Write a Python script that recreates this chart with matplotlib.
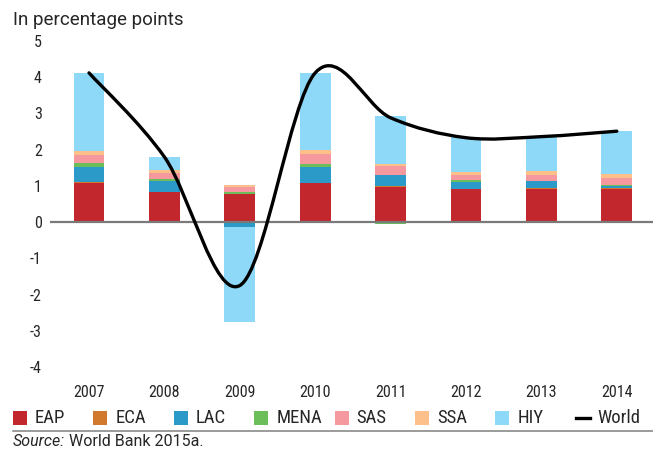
"""
Contribution to world growth by region, stacked bars with a smoothed World line.
"""
import matplotlib
matplotlib.use("Agg")
import matplotlib.pyplot as plt
import numpy as np
from matplotlib import font_manager
from matplotlib.path import Path
from matplotlib.patches import PathPatch, Rectangle
from matplotlib.lines import Line2D

# ─── Data ────────────────────────────────────────────
years = ["2007", "2008", "2009", "2010", "2011", "2012", "2013", "2014"]
eap = [1.08, 0.82, 0.77, 1.08, 0.97, 0.91, 0.91, 0.91]
eca = [0.03, 0.02, -0.03, 0.01, 0.03, 0.01, 0.04, 0.04]
lac = [0.42, 0.30, -0.10, 0.43, 0.30, 0.20, 0.18, 0.05]
mena = [0.10, 0.06, 0.05, 0.09, -0.05, 0.03, 0.01, 0.03]
sas = [0.22, 0.16, 0.14, 0.28, 0.25, 0.14, 0.16, 0.18]
ssa = [0.11, 0.08, 0.06, 0.11, 0.05, 0.08, 0.10, 0.12]
hiy = [2.16, 0.36, -2.64, 2.13, 1.33, 0.98, 0.97, 1.18]
world = [4.12, 1.80, -1.75, 4.12, 2.88, 2.33, 2.36, 2.51]

series_names = ["EAP", "ECA", "LAC", "MENA", "SAS", "SSA", "HIY"]
series_vals = [eap, eca, lac, mena, sas, ssa, hiy]
series_colors = ["#C1272D", "#D17A2D", "#2B9AC8", "#6CBE5A", "#F5999F", "#FEC08A", "#8ED8F8"]

# pick a condensed face if one is installed
_installed = {f.name: f for f in font_manager.fontManager.ttflist}
_narrow = dict(family=["Roboto", "DejaVu Sans"], stretch="normal")
for cand in ["Liberation Sans Narrow", "Roboto Condensed", "DejaVu Sans Condensed",
             "Open Sans Condensed"]:
    if cand in _installed:
        _narrow = dict(family=[cand, "DejaVu Sans"], stretch="normal")
        break
else:
    for f in font_manager.fontManager.ttflist:
        if f.name == "DejaVu Sans" and "ondensed" in str(f.stretch):
            _narrow = dict(family=["DejaVu Sans"], stretch="condensed")
            break
NARROW = _narrow
SANS = ["Roboto", "DejaVu Sans"]
TXT = "#262626"
plt.rcParams["axes.unicode_minus"] = False

W, H = 653, 451

fig = plt.figure(figsize=(W / 100, H / 100), dpi=100)
ax = fig.add_axes([50 / W, (H - 367) / H, 603 / W, 326 / H])

# ─── Stacked bars: positives up from 0, negatives down ─
x = np.arange(len(years))
pos_base = np.zeros(len(years))
neg_base = np.zeros(len(years))
for name, vals, col in zip(series_names, series_vals, series_colors):
    v = np.array(vals)
    bottoms = np.where(v >= 0, pos_base, neg_base)
    ax.bar(x, v, bottom=bottoms, width=0.41, color=col, linewidth=0, zorder=2)
    pos_base += np.where(v >= 0, v, 0)
    neg_base += np.where(v < 0, v, 0)

ax.axhline(0, color="#7a7a7a", linewidth=1.6, zorder=3)

# ─── World line, smoothed (Catmull-Rom as cubic Bezier) ─
pts = np.column_stack([x, world]).astype(float)
n = len(pts)
verts = [pts[0]]
codes = [Path.MOVETO]
for i in range(n - 1):
    p0 = pts[max(i - 1, 0)]
    p1 = pts[i]
    p2 = pts[i + 1]
    p3 = pts[min(i + 2, n - 1)]
    verts += [p1 + (p2 - p0) / 6, p2 - (p3 - p1) / 6, p2]
    codes += [Path.CURVE4] * 3
ax.add_patch(PathPatch(Path(verts, codes), fill=False, edgecolor="black",
                       linewidth=2.4, capstyle="round", zorder=4))

# ─── Axes styling ────────────────────────────────────
ax.set_xlim(-0.517, 7.48)
ax.set_ylim(-4, 5)
ax.set_yticks(range(-4, 6))
ax.set_xticks(x)
ax.set_xticklabels(years)
for s in ax.spines.values():
    s.set_visible(False)
ax.tick_params(axis="both", length=0, colors=TXT, labelsize=11.5)
ax.tick_params(axis="y", pad=6)
ax.tick_params(axis="x", pad=13)
for lab in ax.get_xticklabels() + ax.get_yticklabels():
    lab.set_family(NARROW["family"])
    lab.set_stretch(NARROW["stretch"])

fig.text(13 / W, 1 - 20 / H, "In percentage points", fontsize=13.5,
         family=SANS, color=TXT, va="center", ha="left")

# ─── Legend (fixed grid like the original) ───────────
leg_y = 418
for i, (name, col) in enumerate(zip(series_names, series_colors)):
    x0 = 13 + i * 80.4
    fig.add_artist(Rectangle((x0 / W, 1 - 425 / H), 14 / W, 14 / H,
                             transform=fig.transFigure, color=col, linewidth=0))
    fig.text((x0 + 22) / W, 1 - leg_y / H, name, fontsize=13.5, color=TXT,
             va="center", ha="left", **NARROW)
x0 = 13 + 7 * 80.4
fig.add_artist(Line2D([x0 / W, (x0 + 14) / W], [1 - leg_y / H, 1 - leg_y / H],
                      transform=fig.transFigure, color="black", linewidth=2.4))
fig.text((x0 + 22) / W, 1 - leg_y / H, "World", fontsize=13.5, color=TXT,
         va="center", ha="left", **NARROW)

fig.add_artist(Line2D([13 / W, 1], [1 - 431 / H, 1 - 431 / H],
                      transform=fig.transFigure, color="#8a8a8a", linewidth=1.2))

t = fig.text(13 / W, 1 - 442 / H, "Source:", fontsize=11.5, style="italic",
             family=SANS, color=TXT, va="center", ha="left")
fig.canvas.draw()
bb = t.get_window_extent()
fig.text((bb.x1 + 4) / W, 1 - 442 / H, "World Bank 2015a.", fontsize=11.5,
         family=SANS, color=TXT, va="center", ha="left")

fig.savefig("out.png", dpi=100)
plt.close(fig)
